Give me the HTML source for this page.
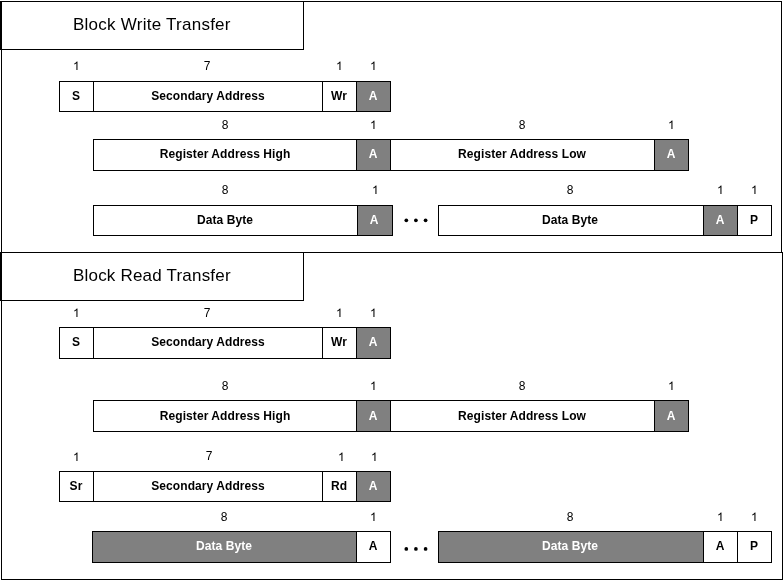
<!DOCTYPE html>
<html><head><meta charset="utf-8"><style>
html,body{margin:0;padding:0;background:#fff;}
body{width:783px;height:581px;position:relative;overflow:hidden;font-family:"Liberation Sans", sans-serif;}
.b{position:absolute;box-sizing:border-box;border:1px solid #000;}
.t{position:absolute;width:300px;text-align:center;white-space:nowrap;font-size:12px;line-height:14px;font-weight:bold;will-change:transform;}
.tl{position:absolute;white-space:nowrap;will-change:transform;}
.o{position:absolute;fill:#000;}
.d{position:absolute;width:3.3px;height:3.3px;border-radius:50%;background:#000;}
</style></head><body>
<div class="b" style="left:1px;top:1px;width:781px;height:252px;background:transparent;"></div>
<div class="b" style="left:1px;top:252px;width:782px;height:328px;background:transparent;"></div>
<div class="b" style="left:0px;top:1px;width:304px;height:49px;background:#fff;border-left-width:2px;"></div>
<div class="b" style="left:0px;top:252px;width:304px;height:49px;background:#fff;border-left-width:2px;"></div>
<div class="tl" style="left:72.8px;top:15px;font-size:17px;line-height:19px;letter-spacing:0.25px">Block Write Transfer</div>
<div class="tl" style="left:72.8px;top:266px;font-size:17px;line-height:19px;letter-spacing:0.2px">Block Read Transfer</div>
<div class="b" style="left:59px;top:81px;width:35px;height:31px;background:#fff;"></div>
<div class="b" style="left:93px;top:81px;width:230px;height:31px;background:#fff;"></div>
<div class="b" style="left:322px;top:81px;width:35px;height:31px;background:#fff;"></div>
<div class="b" style="left:356px;top:81px;width:35px;height:31px;background:#808080;"></div>
<div class="t" style="left:-74.30px;top:89px;color:#000;letter-spacing:0.08px;text-indent:0.08px;">S</div>
<svg class="o" style="left:72.583px;top:60px" width="6.674" height="12" viewBox="0 0 1139 2048"><path transform="translate(0 1706.7) scale(1 -1)" d="M763 0L583 0L583 1147Q518 1085 413 1023Q308 961 223 930L223 1104Q373 1175 485 1276Q597 1377 643 1472L763 1472Z"/></svg>
<div class="t" style="left:58.00px;top:89px;color:#000;letter-spacing:0.08px;text-indent:0.08px;">Secondary Address</div>
<div class="t" style="left:57.20px;top:59px;color:#000;font-weight:normal;">7</div>
<div class="t" style="left:188.70px;top:89px;color:#000;letter-spacing:0.08px;text-indent:0.08px;">Wr</div>
<svg class="o" style="left:336.163px;top:60px" width="6.674" height="12" viewBox="0 0 1139 2048"><path transform="translate(0 1706.7) scale(1 -1)" d="M763 0L583 0L583 1147Q518 1085 413 1023Q308 961 223 930L223 1104Q373 1175 485 1276Q597 1377 643 1472L763 1472Z"/></svg>
<div class="t" style="left:222.70px;top:89px;color:#fff;letter-spacing:0.08px;text-indent:0.08px;">A</div>
<svg class="o" style="left:370.163px;top:60px" width="6.674" height="12" viewBox="0 0 1139 2048"><path transform="translate(0 1706.7) scale(1 -1)" d="M763 0L583 0L583 1147Q518 1085 413 1023Q308 961 223 930L223 1104Q373 1175 485 1276Q597 1377 643 1472L763 1472Z"/></svg>
<div class="b" style="left:93px;top:139px;width:264px;height:32px;background:#fff;"></div>
<div class="b" style="left:356px;top:139px;width:35px;height:32px;background:#808080;"></div>
<div class="b" style="left:390px;top:139px;width:265px;height:32px;background:#fff;"></div>
<div class="b" style="left:654px;top:139px;width:35px;height:32px;background:#808080;"></div>
<div class="t" style="left:75.00px;top:147px;color:#000;letter-spacing:0.08px;text-indent:0.08px;">Register Address High</div>
<div class="t" style="left:75.20px;top:118px;color:#000;font-weight:normal;">8</div>
<div class="t" style="left:222.70px;top:147px;color:#fff;letter-spacing:0.08px;text-indent:0.08px;">A</div>
<svg class="o" style="left:370.163px;top:119px" width="6.674" height="12" viewBox="0 0 1139 2048"><path transform="translate(0 1706.7) scale(1 -1)" d="M763 0L583 0L583 1147Q518 1085 413 1023Q308 961 223 930L223 1104Q373 1175 485 1276Q597 1377 643 1472L763 1472Z"/></svg>
<div class="t" style="left:371.70px;top:147px;color:#000;letter-spacing:0.08px;text-indent:0.08px;">Register Address Low</div>
<div class="t" style="left:371.70px;top:118px;color:#000;font-weight:normal;">8</div>
<div class="t" style="left:520.70px;top:147px;color:#fff;letter-spacing:0.08px;text-indent:0.08px;">A</div>
<svg class="o" style="left:668.163px;top:119px" width="6.674" height="12" viewBox="0 0 1139 2048"><path transform="translate(0 1706.7) scale(1 -1)" d="M763 0L583 0L583 1147Q518 1085 413 1023Q308 961 223 930L223 1104Q373 1175 485 1276Q597 1377 643 1472L763 1472Z"/></svg>
<div class="b" style="left:93px;top:205px;width:265px;height:31px;background:#fff;"></div>
<div class="b" style="left:357px;top:205px;width:36px;height:31px;background:#808080;"></div>
<div class="b" style="left:438px;top:205px;width:266px;height:31px;background:#fff;"></div>
<div class="b" style="left:703px;top:205px;width:35px;height:31px;background:#808080;"></div>
<div class="b" style="left:737px;top:205px;width:35px;height:31px;background:#fff;"></div>
<div class="t" style="left:74.70px;top:213px;color:#000;letter-spacing:0.08px;text-indent:0.08px;">Data Byte</div>
<div class="t" style="left:74.70px;top:183px;color:#000;font-weight:normal;">8</div>
<div class="t" style="left:224.20px;top:213px;color:#fff;letter-spacing:0.08px;text-indent:0.08px;">A</div>
<svg class="o" style="left:371.663px;top:184px" width="6.674" height="12" viewBox="0 0 1139 2048"><path transform="translate(0 1706.7) scale(1 -1)" d="M763 0L583 0L583 1147Q518 1085 413 1023Q308 961 223 930L223 1104Q373 1175 485 1276Q597 1377 643 1472L763 1472Z"/></svg>
<div class="t" style="left:420.20px;top:213px;color:#000;letter-spacing:0.08px;text-indent:0.08px;">Data Byte</div>
<div class="t" style="left:420.20px;top:183px;color:#000;font-weight:normal;">8</div>
<div class="t" style="left:569.70px;top:213px;color:#fff;letter-spacing:0.08px;text-indent:0.08px;">A</div>
<svg class="o" style="left:717.163px;top:184px" width="6.674" height="12" viewBox="0 0 1139 2048"><path transform="translate(0 1706.7) scale(1 -1)" d="M763 0L583 0L583 1147Q518 1085 413 1023Q308 961 223 930L223 1104Q373 1175 485 1276Q597 1377 643 1472L763 1472Z"/></svg>
<div class="t" style="left:603.70px;top:213px;color:#000;letter-spacing:0.08px;text-indent:0.08px;">P</div>
<svg class="o" style="left:751.163px;top:184px" width="6.674" height="12" viewBox="0 0 1139 2048"><path transform="translate(0 1706.7) scale(1 -1)" d="M763 0L583 0L583 1147Q518 1085 413 1023Q308 961 223 930L223 1104Q373 1175 485 1276Q597 1377 643 1472L763 1472Z"/></svg>
<svg class="o" style="left:400px;top:210px" width="40" height="20"><circle cx="6.300000000000011" cy="10.300000000000011" r="1.85"/><circle cx="15.899999999999977" cy="10.300000000000011" r="1.85"/><circle cx="25.600000000000023" cy="10.300000000000011" r="1.85"/></svg>
<div class="b" style="left:59px;top:327px;width:35px;height:32px;background:#fff;"></div>
<div class="b" style="left:93px;top:327px;width:230px;height:32px;background:#fff;"></div>
<div class="b" style="left:322px;top:327px;width:35px;height:32px;background:#fff;"></div>
<div class="b" style="left:356px;top:327px;width:35px;height:32px;background:#808080;"></div>
<div class="t" style="left:-74.30px;top:335px;color:#000;letter-spacing:0.08px;text-indent:0.08px;">S</div>
<svg class="o" style="left:72.583px;top:307px" width="6.674" height="12" viewBox="0 0 1139 2048"><path transform="translate(0 1706.7) scale(1 -1)" d="M763 0L583 0L583 1147Q518 1085 413 1023Q308 961 223 930L223 1104Q373 1175 485 1276Q597 1377 643 1472L763 1472Z"/></svg>
<div class="t" style="left:58.00px;top:335px;color:#000;letter-spacing:0.08px;text-indent:0.08px;">Secondary Address</div>
<div class="t" style="left:57.20px;top:306px;color:#000;font-weight:normal;">7</div>
<div class="t" style="left:188.70px;top:335px;color:#000;letter-spacing:0.08px;text-indent:0.08px;">Wr</div>
<svg class="o" style="left:336.163px;top:307px" width="6.674" height="12" viewBox="0 0 1139 2048"><path transform="translate(0 1706.7) scale(1 -1)" d="M763 0L583 0L583 1147Q518 1085 413 1023Q308 961 223 930L223 1104Q373 1175 485 1276Q597 1377 643 1472L763 1472Z"/></svg>
<div class="t" style="left:222.70px;top:335px;color:#fff;letter-spacing:0.08px;text-indent:0.08px;">A</div>
<svg class="o" style="left:370.163px;top:307px" width="6.674" height="12" viewBox="0 0 1139 2048"><path transform="translate(0 1706.7) scale(1 -1)" d="M763 0L583 0L583 1147Q518 1085 413 1023Q308 961 223 930L223 1104Q373 1175 485 1276Q597 1377 643 1472L763 1472Z"/></svg>
<div class="b" style="left:93px;top:400px;width:264px;height:32px;background:#fff;"></div>
<div class="b" style="left:356px;top:400px;width:35px;height:32px;background:#808080;"></div>
<div class="b" style="left:390px;top:400px;width:265px;height:32px;background:#fff;"></div>
<div class="b" style="left:654px;top:400px;width:35px;height:32px;background:#808080;"></div>
<div class="t" style="left:75.00px;top:409px;color:#000;letter-spacing:0.08px;text-indent:0.08px;">Register Address High</div>
<div class="t" style="left:75.20px;top:379px;color:#000;font-weight:normal;">8</div>
<div class="t" style="left:222.70px;top:409px;color:#fff;letter-spacing:0.08px;text-indent:0.08px;">A</div>
<svg class="o" style="left:370.163px;top:380px" width="6.674" height="12" viewBox="0 0 1139 2048"><path transform="translate(0 1706.7) scale(1 -1)" d="M763 0L583 0L583 1147Q518 1085 413 1023Q308 961 223 930L223 1104Q373 1175 485 1276Q597 1377 643 1472L763 1472Z"/></svg>
<div class="t" style="left:371.70px;top:409px;color:#000;letter-spacing:0.08px;text-indent:0.08px;">Register Address Low</div>
<div class="t" style="left:371.70px;top:379px;color:#000;font-weight:normal;">8</div>
<div class="t" style="left:520.70px;top:409px;color:#fff;letter-spacing:0.08px;text-indent:0.08px;">A</div>
<svg class="o" style="left:668.163px;top:380px" width="6.674" height="12" viewBox="0 0 1139 2048"><path transform="translate(0 1706.7) scale(1 -1)" d="M763 0L583 0L583 1147Q518 1085 413 1023Q308 961 223 930L223 1104Q373 1175 485 1276Q597 1377 643 1472L763 1472Z"/></svg>
<div class="b" style="left:59px;top:471px;width:35px;height:31px;background:#fff;"></div>
<div class="b" style="left:93px;top:471px;width:230px;height:31px;background:#fff;"></div>
<div class="b" style="left:322px;top:471px;width:35px;height:31px;background:#fff;"></div>
<div class="b" style="left:356px;top:471px;width:35px;height:31px;background:#808080;"></div>
<div class="t" style="left:-74.30px;top:479px;color:#000;letter-spacing:0.08px;text-indent:0.08px;">Sr</div>
<svg class="o" style="left:73.163px;top:451px" width="6.674" height="12" viewBox="0 0 1139 2048"><path transform="translate(0 1706.7) scale(1 -1)" d="M763 0L583 0L583 1147Q518 1085 413 1023Q308 961 223 930L223 1104Q373 1175 485 1276Q597 1377 643 1472L763 1472Z"/></svg>
<div class="t" style="left:58.00px;top:479px;color:#000;letter-spacing:0.08px;text-indent:0.08px;">Secondary Address</div>
<div class="t" style="left:59.20px;top:449px;color:#000;font-weight:normal;">7</div>
<div class="t" style="left:188.70px;top:479px;color:#000;letter-spacing:0.08px;text-indent:0.08px;">Rd</div>
<svg class="o" style="left:337.563px;top:451px" width="6.674" height="12" viewBox="0 0 1139 2048"><path transform="translate(0 1706.7) scale(1 -1)" d="M763 0L583 0L583 1147Q518 1085 413 1023Q308 961 223 930L223 1104Q373 1175 485 1276Q597 1377 643 1472L763 1472Z"/></svg>
<div class="t" style="left:222.70px;top:479px;color:#fff;letter-spacing:0.08px;text-indent:0.08px;">A</div>
<svg class="o" style="left:371.063px;top:451px" width="6.674" height="12" viewBox="0 0 1139 2048"><path transform="translate(0 1706.7) scale(1 -1)" d="M763 0L583 0L583 1147Q518 1085 413 1023Q308 961 223 930L223 1104Q373 1175 485 1276Q597 1377 643 1472L763 1472Z"/></svg>
<div class="b" style="left:92px;top:531px;width:265px;height:32px;background:#808080;"></div>
<div class="b" style="left:356px;top:531px;width:35px;height:32px;background:#fff;"></div>
<div class="b" style="left:438px;top:531px;width:266px;height:32px;background:#808080;"></div>
<div class="b" style="left:703px;top:531px;width:35px;height:32px;background:#fff;"></div>
<div class="b" style="left:737px;top:531px;width:35px;height:32px;background:#fff;"></div>
<div class="t" style="left:73.70px;top:539px;color:#fff;letter-spacing:0.08px;text-indent:0.08px;">Data Byte</div>
<div class="t" style="left:73.70px;top:510px;color:#000;font-weight:normal;">8</div>
<div class="t" style="left:222.70px;top:539px;color:#000;letter-spacing:0.08px;text-indent:0.08px;">A</div>
<svg class="o" style="left:370.163px;top:511px" width="6.674" height="12" viewBox="0 0 1139 2048"><path transform="translate(0 1706.7) scale(1 -1)" d="M763 0L583 0L583 1147Q518 1085 413 1023Q308 961 223 930L223 1104Q373 1175 485 1276Q597 1377 643 1472L763 1472Z"/></svg>
<div class="t" style="left:420.20px;top:539px;color:#fff;letter-spacing:0.08px;text-indent:0.08px;">Data Byte</div>
<div class="t" style="left:420.20px;top:510px;color:#000;font-weight:normal;">8</div>
<div class="t" style="left:569.70px;top:539px;color:#000;letter-spacing:0.08px;text-indent:0.08px;">A</div>
<svg class="o" style="left:717.163px;top:511px" width="6.674" height="12" viewBox="0 0 1139 2048"><path transform="translate(0 1706.7) scale(1 -1)" d="M763 0L583 0L583 1147Q518 1085 413 1023Q308 961 223 930L223 1104Q373 1175 485 1276Q597 1377 643 1472L763 1472Z"/></svg>
<div class="t" style="left:603.70px;top:539px;color:#000;letter-spacing:0.08px;text-indent:0.08px;">P</div>
<svg class="o" style="left:751.163px;top:511px" width="6.674" height="12" viewBox="0 0 1139 2048"><path transform="translate(0 1706.7) scale(1 -1)" d="M763 0L583 0L583 1147Q518 1085 413 1023Q308 961 223 930L223 1104Q373 1175 485 1276Q597 1377 643 1472L763 1472Z"/></svg>
<svg class="o" style="left:400px;top:538px" width="40" height="20"><circle cx="6.300000000000011" cy="10.899999999999977" r="1.85"/><circle cx="15.899999999999977" cy="10.899999999999977" r="1.85"/><circle cx="25.600000000000023" cy="10.899999999999977" r="1.85"/></svg>
</body></html>
